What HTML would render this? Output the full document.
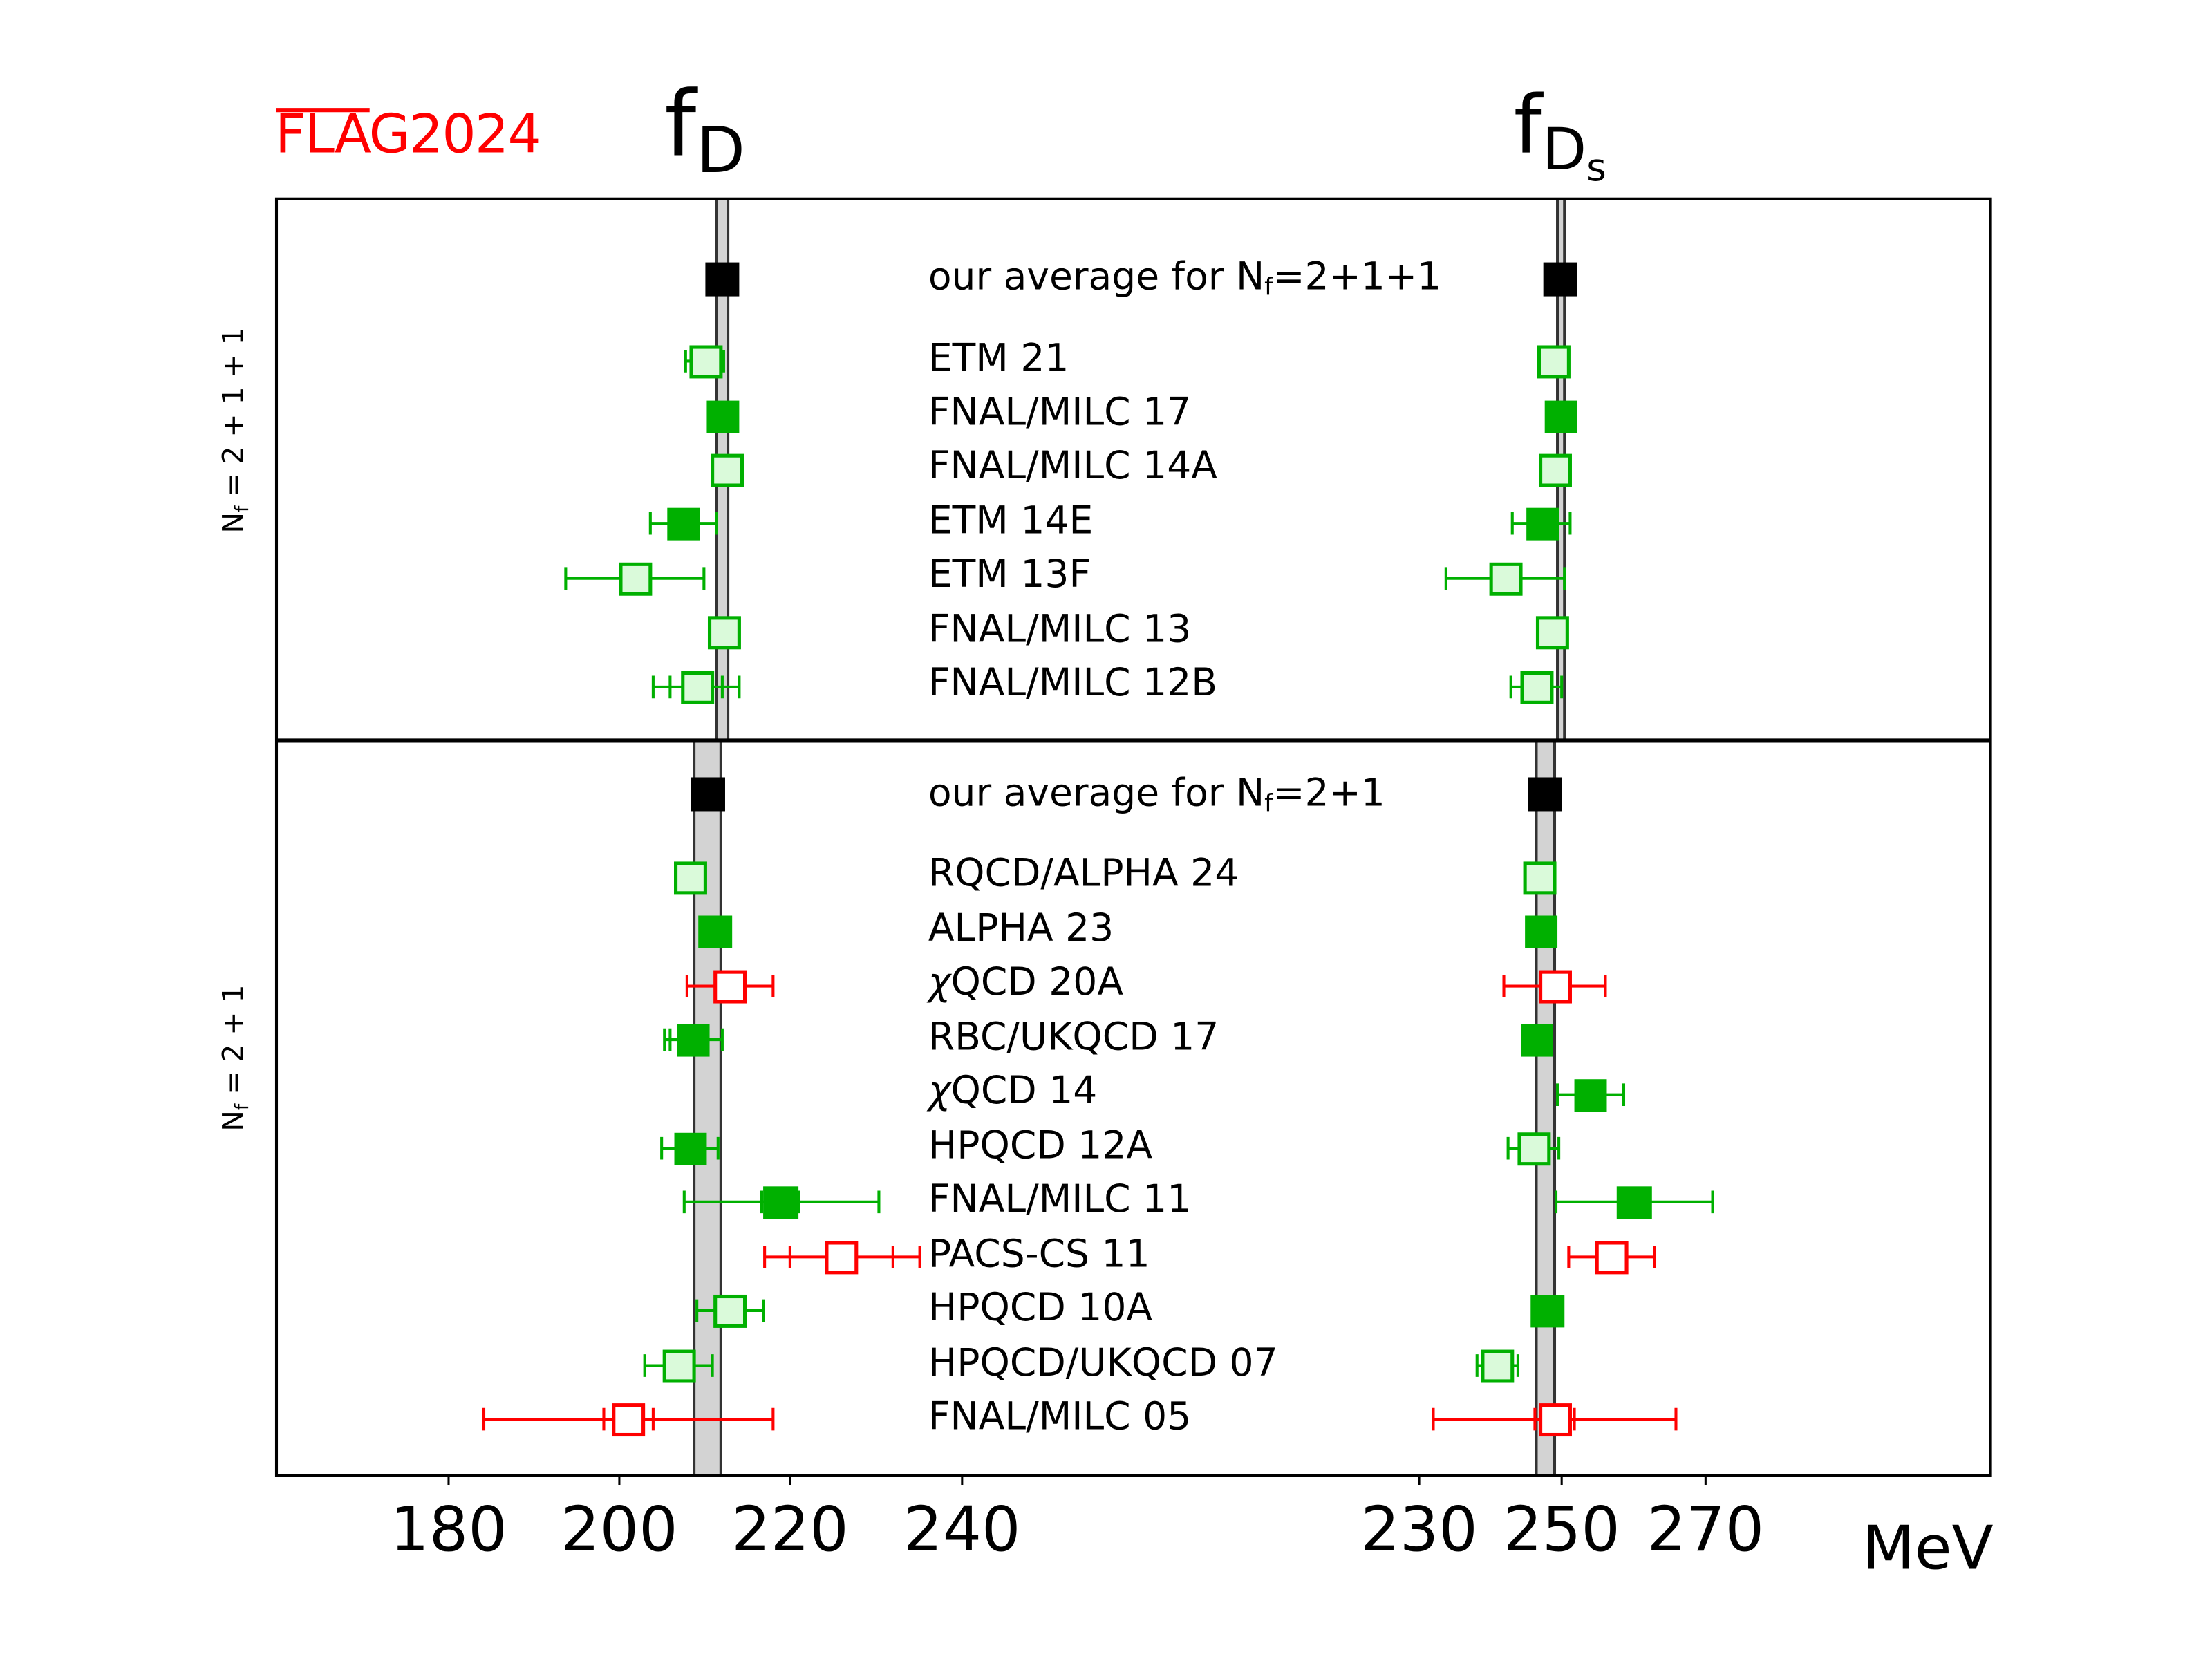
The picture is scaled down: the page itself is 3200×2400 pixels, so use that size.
<!DOCTYPE html>
<html><head><meta charset="utf-8"><style>
html,body{margin:0;padding:0;background:#fff}
svg{display:block}
text{font-family:"DejaVu Sans","Liberation Sans",sans-serif}
</style></head><body>
<svg width="3200" height="2400" viewBox="0 0 1568 1176" xmlns="http://www.w3.org/2000/svg">
<rect width="1568" height="1176" fill="#fff"/>
<!-- bands -->
<rect x="508" y="141" width="8" height="384" fill="#d3d3d3"/>
<line x1="508" y1="141" x2="508" y2="525" stroke="#333" stroke-width="2"/>
<line x1="516" y1="141" x2="516" y2="525" stroke="#333" stroke-width="2"/>
<rect x="1104" y="141" width="5" height="384" fill="#d3d3d3"/>
<line x1="1104" y1="141" x2="1104" y2="525" stroke="#333" stroke-width="2"/>
<line x1="1109" y1="141" x2="1109" y2="525" stroke="#333" stroke-width="2"/>
<rect x="492" y="525" width="19" height="521" fill="#d3d3d3"/>
<line x1="492" y1="525" x2="492" y2="1046" stroke="#333" stroke-width="2"/>
<line x1="511" y1="525" x2="511" y2="1046" stroke="#333" stroke-width="2"/>
<rect x="1089" y="525" width="13" height="521" fill="#d3d3d3"/>
<line x1="1089" y1="525" x2="1089" y2="1046" stroke="#333" stroke-width="2"/>
<line x1="1102" y1="525" x2="1102" y2="1046" stroke="#333" stroke-width="2"/>

<!-- error bars -->
<g stroke="#00b000" stroke-width="2" fill="none">
<path d="M486 256H513M486 248V264M513 248V264"/>
<path d="M461 371H508M461 363V379M508 363V379M1072 371H1113M1072 363V379M1113 363V379"/>
<path d="M401 410H499M401 402V418M499 402V418M1025 410H1109M1025 402V418M1109 402V418"/>
<path d="M463 487H524M463 479V495M524 479V495M475 479V495M512 479V495M1071 487H1107M1071 479V495M1107 479V495"/>
<path d="M471 737H512M471 729V745M512 729V745M475 729V745"/>
<path d="M1104 776H1151M1104 768V784M1151 768V784"/>
<path d="M469 814H509M469 806V822M509 806V822M1069 814H1105M1069 806V822M1105 806V822"/>
<path d="M485 852H623M485 844V860M623 844V860M540 844V860M566 844V860M1103 852H1214M1103 844V860M1214 844V860"/>
<path d="M494 929H541M494 921V937M541 921V937"/>
<path d="M457 968H505M457 960V976M505 960V976M1047 968H1076M1047 960V976M1076 960V976"/>
</g>
<g stroke="#ff0000" stroke-width="2" fill="none">
<path d="M487 699H548M487 691V707M548 691V707M1066 699H1138M1066 691V707M1138 691V707"/>
<path d="M542 891H652M542 883V899M652 883V899M560 883V899M633 883V899M1112 891H1173M1112 883V899M1173 883V899"/>
<path d="M343 1006H548M343 998V1014M548 998V1014M428 998V1014M463 998V1014M1016 1006H1188M1016 998V1014M1188 998V1014M1088 998V1014M1116 998V1014"/>
</g>

<!-- markers -->
<g fill="#000">
<rect x="500" y="186" width="24" height="24"/><rect x="1094" y="186" width="24" height="24"/>
<rect x="490" y="551" width="24" height="24"/><rect x="1083" y="551" width="24" height="24"/>
</g>
<g fill="#00b000">
<rect x="501" y="284" width="23" height="23"/><rect x="1095" y="284" width="23" height="23"/>
<rect x="473" y="360" width="23" height="23"/><rect x="1082" y="360" width="23" height="23"/>
<rect x="495" y="649" width="24" height="23"/><rect x="1081" y="649" width="23" height="23"/>
<rect x="480" y="726" width="23" height="23"/><rect x="1078" y="726" width="23" height="23"/>
<rect x="1116" y="765" width="23" height="23"/>
<rect x="478" y="803" width="23" height="23"/>
<rect x="541" y="841" width="25" height="23"/><rect x="1146" y="841" width="25" height="23"/>
<rect x="1085" y="918" width="24" height="23"/>
</g>
<g fill="#dafada" stroke="#00b000" stroke-width="2.5">
<rect x="490" y="246" width="21" height="21"/><rect x="1091" y="246" width="21" height="21"/>
<rect x="505" y="323" width="21" height="21"/><rect x="1092" y="323" width="21" height="21"/>
<rect x="440" y="400" width="21" height="21"/><rect x="1057" y="400" width="21" height="21"/>
<rect x="503" y="438" width="21" height="21"/><rect x="1090" y="438" width="21" height="21"/>
<rect x="484" y="477" width="21" height="21"/><rect x="1079" y="477" width="21" height="21"/>
<rect x="479" y="612" width="21" height="21"/><rect x="1081" y="612" width="21" height="21"/>
<rect x="1077" y="804" width="21" height="21"/>
<rect x="507" y="919" width="21" height="21"/>
<rect x="471" y="958" width="21" height="21"/><rect x="1051" y="958" width="21" height="21"/>
</g>
<g fill="#fff" stroke="#ff0000" stroke-width="2.5">
<rect x="507" y="689" width="21" height="21"/><rect x="1092" y="689" width="21" height="21"/>
<rect x="586" y="881" width="21" height="21"/><rect x="1132" y="881" width="21" height="21"/>
<rect x="435" y="996" width="21" height="21"/><rect x="1092" y="996" width="21" height="21"/>
</g>

<!-- axes -->
<rect x="196" y="141" width="1215" height="905" fill="none" stroke="#000" stroke-width="2"/>
<line x1="196" y1="525" x2="1411" y2="525" stroke="#000" stroke-width="3"/>
<g stroke="#000" stroke-width="1.5">
<line x1="318" y1="1046" x2="318" y2="1053"/><line x1="439" y1="1046" x2="439" y2="1053"/>
<line x1="560" y1="1046" x2="560" y2="1053"/><line x1="682" y1="1046" x2="682" y2="1053"/>
<line x1="1006" y1="1046" x2="1006" y2="1053"/><line x1="1107" y1="1046" x2="1107" y2="1053"/>
<line x1="1209" y1="1046" x2="1209" y2="1053"/>
</g>
<g font-size="43.5" text-anchor="middle" fill="#000">
<text x="318" y="1099">180</text><text x="439" y="1099">200</text>
<text x="560" y="1099">220</text><text x="682" y="1099">240</text>
<text x="1006" y="1099">230</text><text x="1107" y="1099">250</text>
<text x="1209" y="1099">270</text>
</g>
<text x="1413" y="1112" font-size="43" text-anchor="end">MeV</text>

<!-- titles -->
<text x="471" y="110" font-size="64">f<tspan font-size="45" dy="12">D</tspan></text>
<text x="1073" y="108" font-size="57">f<tspan font-size="41" dy="12">D</tspan><tspan font-size="27" dy="8">s</tspan></text>
<text x="195" y="108" font-size="38" fill="#ff0000" textLength="189">FLAG2024</text>
<line x1="196" y1="78" x2="262" y2="78" stroke="#ff0000" stroke-width="3"/>

<text transform="translate(172,305) rotate(-90)" font-size="20" text-anchor="middle">N<tspan font-size="13" dy="4">f</tspan><tspan dy="-4"> = 2 + 1 + 1</tspan></text>
<text transform="translate(172,750) rotate(-90)" font-size="20" text-anchor="middle">N<tspan font-size="13" dy="4">f</tspan><tspan dy="-4"> = 2 + 1</tspan></text>

<!-- labels -->
<g font-size="27" fill="#000">
<text x="658" y="205">our average for N<tspan font-size="17" dy="4">f</tspan><tspan dy="-4">=2+1+1</tspan></text>
<text x="658" y="263">ETM 21</text>
<text x="658" y="301">FNAL/MILC 17</text>
<text x="658" y="339">FNAL/MILC 14A</text>
<text x="658" y="378">ETM 14E</text>
<text x="658" y="416">ETM 13F</text>
<text x="658" y="455">FNAL/MILC 13</text>
<text x="658" y="493">FNAL/MILC 12B</text>
<text x="658" y="571">our average for N<tspan font-size="17" dy="4">f</tspan><tspan dy="-4">=2+1</tspan></text>
<text x="658" y="628">RQCD/ALPHA 24</text>
<text x="658" y="667">ALPHA 23</text>
<text x="658" y="705"><tspan font-style="italic">χ</tspan>QCD 20A</text>
<text x="658" y="744">RBC/UKQCD 17</text>
<text x="658" y="782"><tspan font-style="italic">χ</tspan>QCD 14</text>
<text x="658" y="821">HPQCD 12A</text>
<text x="658" y="859">FNAL/MILC 11</text>
<text x="658" y="898">PACS-CS 11</text>
<text x="658" y="936">HPQCD 10A</text>
<text x="658" y="975">HPQCD/UKQCD 07</text>
<text x="658" y="1013">FNAL/MILC 05</text>
</g>
</svg>
</body></html>
